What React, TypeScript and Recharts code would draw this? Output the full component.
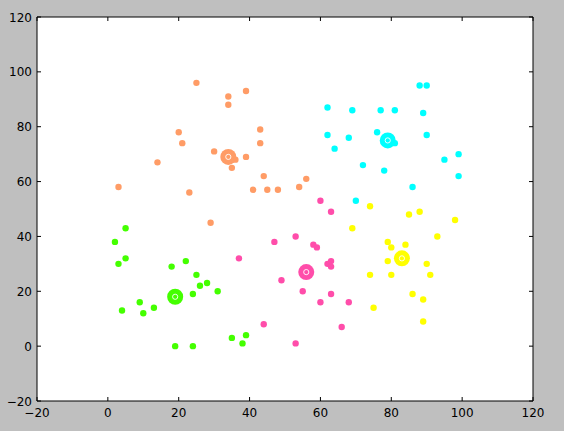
import React from 'react';
import { ScatterChart, Scatter, XAxis, YAxis, CartesianGrid, ReferenceArea } from 'recharts';

const xTicks = [-20, 0, 20, 40, 60, 80, 100, 120];
const yTicks = [-20, 0, 20, 40, 60, 80, 100, 120];

const greenPoints: [number, number][] = [
  [2, 38], [5, 43], [3, 30], [5, 32], [4, 13], [9, 16], [10, 12], [13, 14], [18, 29], [22, 31],
  [24, 19], [25, 26], [26, 22], [28, 23], [31, 20], [19, 0], [24, 0], [35, 3], [38, 1], [39, 4],
];
const orangePoints: [number, number][] = [
  [25, 96], [39, 93], [34, 91], [34, 88], [20, 78], [43, 79], [21, 74], [43, 74], [30, 71], [39, 69],
  [36, 68], [35, 65], [14, 67], [44, 62], [3, 58], [41, 57], [45, 57], [48, 57], [23, 56], [56, 61],
  [54, 58], [29, 45],
];
const magentaPoints: [number, number][] = [
  [60, 53], [63, 49], [53, 40], [47, 38], [58, 37], [59, 36], [37, 32], [63, 31], [62, 30], [63, 29],
  [49, 24], [55, 20], [63, 19], [60, 16], [68, 16], [44, 8], [66, 7], [53, 1],
];
const yellowPoints: [number, number][] = [
  [74, 51], [69, 43], [85, 48], [88, 49], [98, 46], [93, 40], [79, 38], [84, 37], [80, 36], [79, 31],
  [90, 30], [74, 26], [80, 26], [91, 26], [86, 19], [89, 17], [75, 14], [89, 9],
];
const cyanPoints: [number, number][] = [
  [88, 95], [90, 95], [62, 87], [69, 86], [77, 86], [81, 86], [89, 85], [62, 77], [68, 76], [76, 78],
  [90, 77], [81, 74], [64, 72], [72, 66], [78, 64], [95, 68], [99, 70], [99, 62], [86, 58], [70, 53],
];

const centroidGreen: [number, number][] = [[19, 18]];
const centroidOrange: [number, number][] = [[34, 69]];
const centroidMagenta: [number, number][] = [[56, 27]];
const centroidYellow: [number, number][] = [[83, 32]];
const centroidCyan: [number, number][] = [[79, 75]];

const GREEN = '#44ff00';
const ORANGE = '#ff9c66';
const MAGENTA = '#ff4daa';
const YELLOW = '#ffff00';
const CYAN = '#00ffff';

const toData = (pts: [number, number][]) => pts.map(([x, y]) => ({ x, y }));

const PLOT = { left: 37, right: 533, top: 17, bottom: 401 };
const FONT = 'DejaVu Sans, sans-serif';

const fmt = (v: number) => (v < 0 ? '\u2212' + Math.abs(v) : String(v));

const XTick = (props: any) => {
  const { x, payload } = props;
  return (
    <g>
      <line x1={x} x2={x} y1={PLOT.bottom} y2={PLOT.bottom - 4} stroke="#000" strokeWidth={1} />
      <line x1={x} x2={x} y1={PLOT.top} y2={PLOT.top + 4} stroke="#000" strokeWidth={1} />
      <text x={x} y={PLOT.bottom + 15.5} textAnchor="middle" fontFamily={FONT} fontSize={12} fill="#000">
        {fmt(payload.value)}
      </text>
    </g>
  );
};

const YTick = (props: any) => {
  const { y, payload } = props;
  return (
    <g>
      <line x1={PLOT.left} x2={PLOT.left + 4} y1={y} y2={y} stroke="#000" strokeWidth={1} />
      <line x1={PLOT.right} x2={PLOT.right - 4} y1={y} y2={y} stroke="#000" strokeWidth={1} />
      <text x={PLOT.left - 5} y={y + 4.5} textAnchor="end" fontFamily={FONT} fontSize={12} fill="#000">
        {fmt(payload.value)}
      </text>
    </g>
  );
};

const dotShape = (color: string) => (props: any) => {
  const { cx, cy } = props;
  return <circle cx={cx} cy={cy} r={3.2} fill={color} />;
};

const centroidShape = (color: string) => (props: any) => {
  const { cx, cy } = props;
  return (
    <g>
      <circle cx={cx} cy={cy} r={8} fill={color} />
      <circle cx={cx} cy={cy} r={2.6} fill={color} stroke="#ffffff" strokeWidth={0.9} />
    </g>
  );
};

const clusters = [
  { name: 'green', pts: greenPoints, c: centroidGreen, color: GREEN },
  { name: 'orange', pts: orangePoints, c: centroidOrange, color: ORANGE },
  { name: 'magenta', pts: magentaPoints, c: centroidMagenta, color: MAGENTA },
  { name: 'yellow', pts: yellowPoints, c: centroidYellow, color: YELLOW },
  { name: 'cyan', pts: cyanPoints, c: centroidCyan, color: CYAN },
];

export default function App() {
  return (
    <div style={{ position: 'absolute', left: 0, top: 0, width: 564, height: 431, background: '#bfbfbf' }}>
      <ScatterChart
        width={564}
        height={431}
        margin={{ top: PLOT.top, right: 564 - PLOT.right, bottom: 0, left: 0 }}
      >
        <CartesianGrid fill="#ffffff" horizontal={false} vertical={false} />
        <XAxis
          type="number"
          dataKey="x"
          domain={[-20, 120]}
          ticks={xTicks}
          height={431 - PLOT.bottom}
          axisLine={false}
          tickLine={false}
          tick={<XTick />}
          interval={0}
          allowDataOverflow
        />
        <YAxis
          type="number"
          dataKey="y"
          domain={[-20, 120]}
          ticks={yTicks}
          width={PLOT.left}
          axisLine={false}
          tickLine={false}
          tick={<YTick />}
          interval={0}
          allowDataOverflow
        />
        {clusters.map((cl) => (
          <Scatter
            key={cl.name}
            name={cl.name}
            data={toData(cl.pts)}
            fill={cl.color}
            shape={dotShape(cl.color)}
            isAnimationActive={false}
          />
        ))}
        {clusters.map((cl) => (
          <Scatter
            key={cl.name + '-c'}
            name={cl.name + ' centroid'}
            data={toData(cl.c)}
            fill={cl.color}
            shape={centroidShape(cl.color)}
            isAnimationActive={false}
          />
        ))}
        <ReferenceArea
          x1={-20}
          x2={120}
          y1={-20}
          y2={120}
          fill="none"
          fillOpacity={0}
          stroke="#000000"
          strokeWidth={1}
          strokeOpacity={1}
        />
      </ScatterChart>
    </div>
  );
}
